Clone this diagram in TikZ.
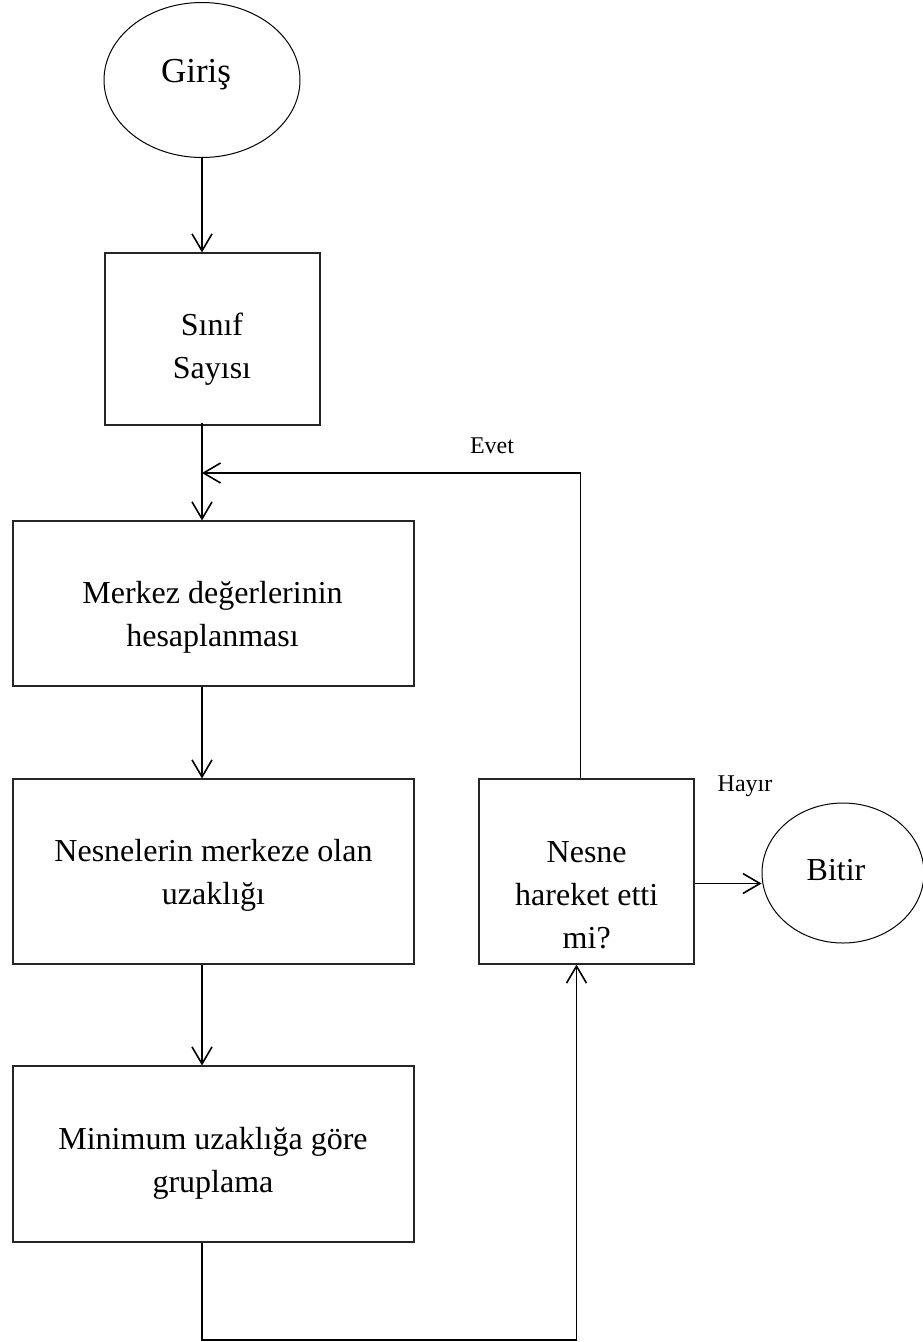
\documentclass[tikz,border=0pt]{standalone}
\usepackage{fontspec}
\setmainfont{Liberation Serif}
\usetikzlibrary{arrows.meta,shapes.geometric}
\begin{document}
\begin{tikzpicture}[x=1pt,y=-1pt,
  box/.style={draw=black!85, line width=1.1pt, rectangle, inner sep=0pt},
  oval/.style={draw, line width=1pt, ellipse, inner sep=0pt},
  lbl/.style={font=\fontsize{32}{43}\selectfont, align=center, anchor=base, inner sep=0pt},
  small/.style={font=\fontsize{24}{28}\selectfont, anchor=base, inner sep=0pt},
  conn/.style={line width=1.6pt},
  arr/.style={conn, -{Straight Barb[length=17pt,width=20pt,line width=1.6pt]}}]
\useasboundingbox (0,0) rectangle (922,1342);
% shapes
\node[oval, minimum width=196pt, minimum height=155pt] (giris) at (202,80) {};
\node[box, minimum width=215pt, minimum height=172pt] (sinif) at (212.5,339) {};
\node[box, minimum width=401pt, minimum height=165pt] (merkez) at (213.5,603.5) {};
\node[box, minimum width=401pt, minimum height=185pt] (uzak) at (213.5,871.5) {};
\node[box, minimum width=401pt, minimum height=176pt] (grup) at (213.5,1154) {};
\node[box, minimum width=215pt, minimum height=185pt] (karar) at (586.5,871.5) {};
\node[oval, minimum width=162pt, minimum height=140pt] (bitir) at (843,873) {};
% texts (anchor base = baseline of the last line)
\node[lbl, font=\fontsize{35}{43}\selectfont] (tgiris) at (196,82) {Giriş};
\node[lbl] (tsinif) at (212,378) {Sınıf\\Sayısı};
\node[lbl] (tmerkez) at (212.5,646) {Merkez değerlerinin\\hesaplanması};
\node[lbl] (tuzak) at (213.5,904) {Nesnelerin merkeze olan\\uzaklığı};
\node[lbl] (tgrup) at (213,1192) {Minimum uzaklığa göre\\gruplama};
\node[lbl] (tkarar) at (586.7,948) {Nesne\\hareket etti\\mi?};
\node[lbl] (tbitir) at (836,880) {Bitir};
\node[small] (evet) at (492,453) {Evet};
\node[small] (hayir) at (745,791) {Hayır};
% connector helpers
\coordinate (j) at (202,473);
\coordinate (bot) at (202,1340);
% connectors
\draw[arr] (giris.south -| j) -- (j |- sinif.north);
\draw[arr] ([yshift=3pt]j |- sinif.south) -- (j |- merkez.north);
\draw[arr] (j |- merkez.south) -- (j |- uzak.north);
\draw[arr] (j |- uzak.south) -- (j |- grup.north);
\draw[arr] ([xshift=-6pt]karar.north) -- ([xshift=-6pt]karar.north |- j) -- (j);
\draw[arr] ([yshift=-12pt]karar.east) -- ([yshift=-12pt]karar.east -| bitir.west);
\draw[arr] (j |- grup.south) -- (bot) -| ([xshift=-10pt]karar.south);
\end{tikzpicture}
\end{document}
